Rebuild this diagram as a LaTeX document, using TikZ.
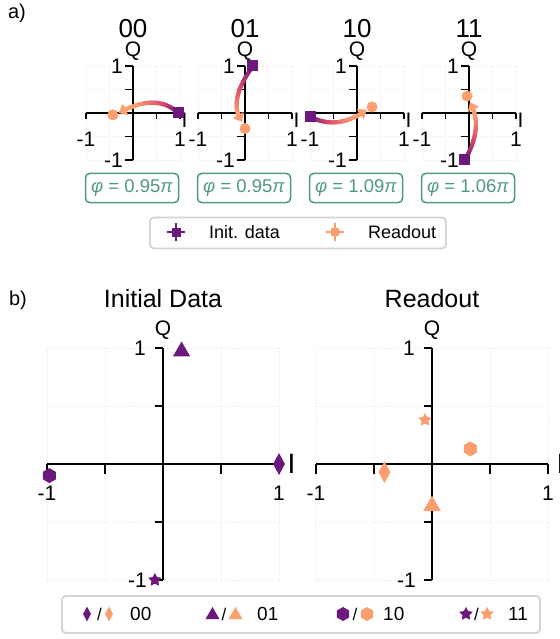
\documentclass[tikz,border=0pt]{standalone}
\usepackage{fontspec}
\setmainfont{Liberation Sans}
\usepackage{tikz}
\usetikzlibrary{calc}
\usetikzlibrary{arrows.meta}
\usetikzlibrary{positioning}
\usetikzlibrary{shapes.geometric}
\usepackage{color}
\definecolor{magmapurple}{RGB}{107, 25, 125}
\definecolor{magmared}{RGB}{222, 73, 104}
\definecolor{magmaorange}{RGB}{252, 158, 110}
\definecolor{phaseteal}{RGB}{78, 152, 133}
\definecolor{legendgray}{RGB}{212, 212, 212}

\newcommand{\fs}[1]{\fontsize{#1}{#1}\selectfont}
% gradient arrow along a quadratic curve: start, bend, end
\newcommand{\iqtraj}[3]{%
  \foreach \i in {0,...,21}{%
    \pgfmathsetmacro{\ta}{\i/25}%
    \pgfmathsetmacro{\tb}{(\i+1)/25}%
    \pgfmathsetmacro{\pa}{min(100,300*\ta)}%
    \pgfmathsetmacro{\pb}{max(0,min(100,220*(\ta-0.33)))}%
    \colorlet{segtmp}{magmared!\pa!magmapurple}%
    \colorlet{segcol}{magmaorange!\pb!segtmp}%
    \draw[segcol, line width=4.2pt, line cap=round]
      ($($(#1)!\ta!(#2)$)!\ta!($(#2)!\ta!(#3)$)$) -- ($($(#1)!\tb!(#2)$)!\tb!($(#2)!\tb!(#3)$)$);
  }%
  \draw[magmaorange, line width=4.2pt, -{Triangle[length=8pt,width=12pt]}]
    ($($(#1)!0.88!(#2)$)!0.88!($(#2)!0.88!(#3)$)$) -- (#3);
}

\tikzset{
  gridline/.style={gray!18, dotted, line width=0.6pt},
  axisline/.style={black, line width=1.6pt},
  ticklab/.style={inner sep=0pt, font=\fs{21}},
  sqmark/.style={fill=magmapurple, inner sep=0pt, minimum size=11pt},
  dotmark/.style={circle, fill=magmaorange, inner sep=0pt, minimum size=11pt},
  dmark/.style={diamond, inner sep=0pt, minimum width=12pt, minimum height=22pt},
  tmark/.style={regular polygon, regular polygon sides=3, inner sep=0pt, minimum size=20pt},
  hmark/.style={regular polygon, regular polygon sides=6, shape border rotate=30, inner sep=0pt, minimum size=15pt},
  smark/.style={star, star points=5, star point ratio=1.9, inner sep=0pt, minimum size=14pt},
  phasebox/.style={draw=phaseteal, text=phaseteal, line width=1.5pt, rounded corners=4pt,
                   minimum width=93pt, minimum height=29pt, inner sep=0pt, font=\fs{18.5}},
  legendbox/.style={draw=legendgray, fill=white, line width=1.8pt, rounded corners=4pt, inner sep=0pt},
  errbar/.style={line width=1.6pt}
}

\begin{document}
\begin{tikzpicture}[x=1pt, y=-1pt, font=\fs{21}]
  \useasboundingbox (0,0) rectangle (559,639);

  % Panel labels
  \node[font=\fs{20}] (pa) at (17,13) {a)};
  \node[font=\fs{20}] (pb) at (18,300) {b)};

  % a) small IQ axes
  \foreach \cx/\lab/\ph in {133/00/0.95, 245/01/0.95, 357/10/1.09, 469/11/1.06}{
    \begin{scope}[shift={(\cx,113)}, x=47pt, y=47pt]
      \draw[gridline] (-1,-1) grid[step=0.5] (1,1);
      \draw[axisline] (-1,0) -- (1,0);
      \draw[axisline] (0,-1) -- (0,1);
      \foreach \t in {-1,-0.5,0.5,1}{
        \draw[axisline] (\t,0) -- ++(0pt,-6pt);
        \draw[axisline] (0,\t) -- ++(-8pt,0pt);
      }
      \node[ticklab, anchor=east, xshift=-10pt] (ya\lab) at (0,1) {1};
      \node[ticklab, anchor=east, xshift=-10pt] (yb\lab) at (0,-1) {-1};
      \node[ticklab, yshift=-26pt] (xa\lab) at (-1,0) {-1};
      \node[ticklab, yshift=-26pt] (xb\lab) at (1,0) {1};
      \node[ticklab, anchor=north west, xshift=1.5pt] (i\lab) at (1,0) {I};
      \node[ticklab, yshift=15pt] (q\lab) at (0,1) {Q};
      \node[font=\fs{26}, inner sep=0pt, yshift=37pt] (t\lab) at (0,1) {\lab};
      \node[phasebox, xshift=-1pt, yshift=-28pt] (ph\lab) at (0,-1) {{\itshape φ} = \ph{\itshape π}};
    \end{scope}
  }

  % 00
  \begin{scope}[shift={(133,113)}, x=47pt, y=47pt]
    \coordinate (s00) at (0.96,0);
    \coordinate (b00) at (0.5,0.44);
    \coordinate (e00) at (-0.31,0.0);
    \coordinate (r00) at (-0.43,-0.04);
    \iqtraj{s00}{b00}{e00}
    \node[dotmark] (rm00) at (r00) {};
    \node[sqmark] (sm00) at (s00) {};
  \end{scope}
  % 01
  \begin{scope}[shift={(245,113)}, x=47pt, y=47pt]
    \coordinate (s01) at (0.17,1.0);
    \coordinate (b01) at (-0.38,0.25);
    \coordinate (e01) at (-0.06,-0.19);
    \coordinate (r01) at (0,-0.33);
    \iqtraj{s01}{b01}{e01}
    \node[dotmark] (rm01) at (r01) {};
    \node[sqmark] (sm01) at (s01) {};
  \end{scope}
  % 10
  \begin{scope}[shift={(357,113)}, x=47pt, y=47pt]
    \coordinate (s10) at (-1.0,-0.08);
    \coordinate (b10) at (-0.4,-0.38);
    \coordinate (e10) at (0.21,0.07);
    \coordinate (r10) at (0.32,0.13);
    \iqtraj{s10}{b10}{e10}
    \node[dotmark] (rm10) at (r10) {};
    \node[sqmark] (sm10) at (s10) {};
  \end{scope}
  % 11
  \begin{scope}[shift={(469,113)}, x=47pt, y=47pt]
    \coordinate (s11) at (-0.09,-1.0);
    \coordinate (b11) at (0.32,-0.3);
    \coordinate (e11) at (0.02,0.23);
    \coordinate (r11) at (-0.04,0.36);
    \iqtraj{s11}{b11}{e11}
    \node[dotmark] (rm11) at (r11) {};
    \node[sqmark] (sm11) at (s11) {};
  \end{scope}

  % a) legend
  \node[legendbox, minimum width=296pt, minimum height=31pt] (toplegend) at (298,233) {};
  \draw[errbar, magmapurple] (167,232) -- (185,232) (176,223) -- (176,241);
  \node[sqmark, minimum size=9pt] (lgi) at (176,232) {};
  \node[anchor=west, inner sep=0pt, font=\fs{18}] (lgit) at (209,232) {Init. data};
  \draw[errbar, magmaorange] (326,232) -- (344,232) (335,223) -- (335,241);
  \node[dotmark, minimum size=10pt] (lgr) at (335,232) {};
  \node[anchor=west, inner sep=0pt, font=\fs{18}] (lgrt) at (368,232) {Readout};

  % b) large IQ axes
  \foreach \cx/\lab/\ttl in {163/init/Initial Data, 432/read/Readout}{
    \begin{scope}[shift={(\cx,464)}, x=116pt, y=116pt]
      \draw[gridline] (-1,-1) grid[step=0.5] (1,1);
      \draw[axisline] (-1,0) -- (1,0);
      \draw[axisline] (0,-1) -- (0,1);
      \foreach \t in {-1,-0.5,0.5,1}{
        \draw[axisline] (\t,0) -- ++(0pt,-10pt);
        \draw[axisline] (0,\t) -- ++(-8pt,0pt);
      }
      \node[ticklab, anchor=east, xshift=-17pt] (ya\lab) at (0,1) {1};
      \node[ticklab, anchor=east, xshift=-16pt] (yb\lab) at (0,-1) {-1};
      \node[ticklab, yshift=-29pt] (xa\lab) at (-1,0) {-1};
      \node[ticklab, yshift=-29pt] (xb\lab) at (1,0) {1};
      \node[ticklab, font=\fs{28}, anchor=west, xshift=8.5pt] (i\lab) at (1,0) {I};
      \node[ticklab, yshift=18pt] (q\lab) at (0,1) {Q};
      \node[font=\fs{25}, inner sep=0pt, yshift=49pt] (t\lab) at (0,1) {\ttl};
    \end{scope}
  }

  % Initial data points
  \begin{scope}[shift={(163,464)}, x=116pt, y=116pt]
    \node[dmark, fill=magmapurple] (ini00) at (1.0,0.0) {};
    \node[tmark, fill=magmapurple] (ini01) at (0.16,0.97) {};
    \node[hmark, fill=magmapurple] (ini10) at (-0.98,-0.1) {};
    \node[smark, fill=magmapurple] (ini11) at (-0.07,-1.0) {};
  \end{scope}
  % Readout points
  \begin{scope}[shift={(432,464)}, x=116pt, y=116pt]
    \node[dmark, fill=magmaorange] (rd00) at (-0.41,-0.07) {};
    \node[tmark, fill=magmaorange] (rd01) at (0.0,-0.36) {};
    \node[hmark, fill=magmaorange] (rd10) at (0.33,0.13) {};
    \node[smark, fill=magmaorange] (rd11) at (-0.06,0.38) {};
  \end{scope}

  % b) legend
  \node[legendbox, minimum width=478pt, minimum height=37pt] (botlegend) at (301,614.5) {};
  \node[dmark, fill=magmapurple, minimum width=8pt, minimum height=15pt] (lg00a) at (87,614) {};
  \node[inner sep=0pt, font=\fs{17}] (lg00s) at (99.5,614) {/};
  \node[dmark, fill=magmaorange, minimum width=8pt, minimum height=15pt] (lg00b) at (109,614) {};
  \node[anchor=west, inner sep=0pt, font=\fs{19}] (lg00t) at (130,614) {00};
  \node[tmark, fill=magmapurple, minimum size=16pt] (lg01a) at (212.5,615) {};
  \node[inner sep=0pt, font=\fs{17}] (lg01s) at (224,614) {/};
  \node[tmark, fill=magmaorange, minimum size=16pt] (lg01b) at (235.5,615) {};
  \node[anchor=west, inner sep=0pt, font=\fs{19}] (lg01t) at (257,614) {01};
  \node[hmark, fill=magmapurple, minimum size=14pt] (lg10a) at (343,614) {};
  \node[inner sep=0pt, font=\fs{17}] (lg10s) at (355,614) {/};
  \node[hmark, fill=magmaorange, minimum size=14pt] (lg10b) at (367,614) {};
  \node[anchor=west, inner sep=0pt, font=\fs{19}] (lg10t) at (383,614) {10};
  \node[smark, fill=magmapurple, minimum size=14pt] (lg11a) at (466,614) {};
  \node[inner sep=0pt, font=\fs{17}] (lg11s) at (476.5,614) {/};
  \node[smark, fill=magmaorange, minimum size=14pt] (lg11b) at (487,614) {};
  \node[anchor=west, inner sep=0pt, font=\fs{19}] (lg11t) at (508,614) {11};
\end{tikzpicture}
\end{document}
